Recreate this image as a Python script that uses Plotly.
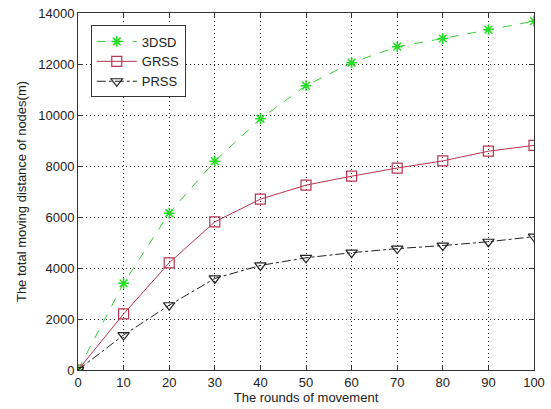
import plotly.graph_objects as go

rounds = [0, 10, 20, 30, 40, 50, 60, 70, 80, 90, 100]
dsd3 = [0, 3400, 6150, 8190, 9850, 11150, 12050, 12680, 13000, 13350, 13680]
grss = [0, 2200, 4200, 5810, 6700, 7250, 7600, 7920, 8200, 8580, 8810]
prss = [0, 1370, 2540, 3590, 4100, 4400, 4600, 4760, 4880, 5030, 5230]

x_ticks = [0, 10, 20, 30, 40, 50, 60, 70, 80, 90, 100]
y_ticks = [0, 2000, 4000, 6000, 8000, 10000, 12000, 14000]
y_ticktext = ["0", "2000", "4000", "6000", "8000", "10000", "12000", "14000"]

FONT = "Liberation Sans, Arial"

fig = go.Figure()
fig.add_trace(go.Scatter(x=rounds, y=dsd3, name="3DSD", mode="lines+markers",
                         line=dict(color="#33cc33", width=1, dash="dash"),
                         marker=dict(symbol="asterisk-open", size=9, color="#22dd22",
                                     line=dict(color="#22dd22", width=1.5))))
fig.add_trace(go.Scatter(x=rounds, y=grss, name="GRSS", mode="lines+markers",
                         line=dict(color="#b8364e", width=1),
                         marker=dict(symbol="square-open", size=10, color="#b8364e",
                                     line=dict(width=1.2))))
fig.add_trace(go.Scatter(x=rounds, y=prss, name="PRSS", mode="lines+markers",
                         line=dict(color="#222222", width=1, dash="dashdot"),
                         marker=dict(symbol="triangle-down-open", size=10, color="#222222",
                                     line=dict(width=1.2))))

axis_common = dict(showline=True, linecolor="#333333", linewidth=1, mirror="ticks",
                   ticks="inside", ticklen=5, tickcolor="#333333",
                   showgrid=True, gridcolor="#222222", griddash="1px,3px", gridwidth=1,
                   zeroline=False, ticklabeloverflow="allow",
                   tickfont=dict(family=FONT, size=13, color="#222222"))

fig.update_xaxes(range=[0, 100], tickvals=x_ticks,
                 title=dict(text="The rounds of movement", standoff=2,
                            font=dict(family=FONT, size=13, color="#222222")),
                 **axis_common)
fig.update_yaxes(range=[0, 14000], tickvals=y_ticks, ticktext=y_ticktext,
                 title=dict(text="The total moving distance of nodes(m)", standoff=8,
                            font=dict(family=FONT, size=13, color="#222222")),
                 **axis_common)

fig.update_layout(
    width=551, height=409,
    margin=dict(l=78, r=6, t=12, b=39),
    paper_bgcolor="white", plot_bgcolor="white",
    legend=dict(x=0.028, y=0.965, xanchor="left", yanchor="top",
                bgcolor="white", bordercolor="#333333", borderwidth=1,
                font=dict(family=FONT, size=13, color="#222222"),
                tracegroupgap=0, itemwidth=40),
    showlegend=True,
)

fig.write_html("out.html")
